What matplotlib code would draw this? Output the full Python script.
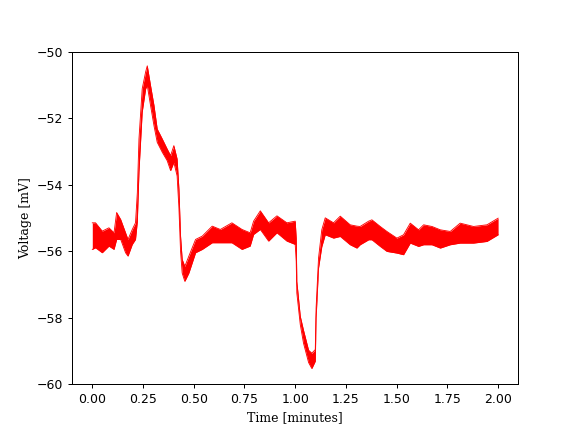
import matplotlib
matplotlib.use('agg')

import matplotlib.pyplot as plt
import numpy as np

# Envelope of the noisy voltage trace
time_min = [0.000, 0.016, 0.049, 0.082, 0.107, 0.120, 0.140, 0.164, 0.176, 0.197,
            0.213, 0.222, 0.230, 0.246, 0.263, 0.271, 0.287, 0.304, 0.320, 0.345,
            0.369, 0.386, 0.402, 0.418, 0.427, 0.435, 0.443, 0.456, 0.476, 0.509,
            0.542, 0.591, 0.631, 0.688, 0.738, 0.778, 0.795, 0.828, 0.869, 0.910,
            0.959, 1.000, 1.005, 1.008, 1.025, 1.041, 1.066, 1.082, 1.099, 1.103,
            1.115, 1.131, 1.148, 1.189, 1.222, 1.271, 1.304, 1.320, 1.362, 1.378,
            1.419, 1.452, 1.501, 1.534, 1.567, 1.608, 1.633, 1.674, 1.715, 1.764,
            1.813, 1.879, 1.945, 2.000]
v_high = [-55.14, -55.14, -55.39, -55.29, -55.44, -54.83, -55.04, -55.44, -55.64, -55.34,
          -55.14, -54.23, -52.62, -51.11, -50.60, -50.42, -51.01, -51.61, -52.32, -52.62,
          -52.92, -53.12, -52.82, -53.22, -54.13, -55.54, -56.24, -56.45, -56.14, -55.64,
          -55.54, -55.24, -55.34, -55.14, -55.34, -55.44, -55.09, -54.78, -55.14, -54.93,
          -55.14, -55.09, -55.60, -56.90, -57.95, -58.37, -58.97, -59.06, -58.95, -57.70,
          -56.20, -55.35, -54.99, -55.14, -54.94, -55.20, -55.24, -55.25, -55.09, -55.05,
          -55.25, -55.40, -55.60, -55.50, -55.15, -55.35, -55.20, -55.25, -55.35, -55.40,
          -55.15, -55.25, -55.20, -55.00]
v_low = [-55.94, -55.89, -56.04, -55.84, -55.94, -55.64, -55.64, -56.04, -56.14, -55.79,
         -55.64, -55.10, -53.60, -51.81, -51.11, -51.01, -51.61, -52.22, -52.72, -53.02,
         -53.27, -53.57, -53.32, -53.73, -54.70, -56.00, -56.65, -56.90, -56.65, -56.04,
         -55.94, -55.74, -55.74, -55.74, -55.94, -55.84, -55.49, -55.34, -55.69, -55.44,
         -55.69, -55.79, -56.30, -57.25, -58.20, -58.76, -59.34, -59.52, -59.30, -58.00,
         -56.50, -55.86, -55.50, -55.60, -55.55, -55.80, -55.90, -55.80, -55.65, -55.65,
         -55.85, -56.00, -56.05, -56.10, -55.75, -55.85, -55.80, -55.80, -55.90, -55.80,
         -55.75, -55.75, -55.70, -55.50]

fig, ax = plt.subplots(figsize=(6.4, 4.8), dpi=90)

ax.fill_between(time_min, v_low, v_high, color='red', linewidth=0)
ax.plot(time_min, v_high, color='red', linewidth=0.7)
ax.plot(time_min, v_low, color='red', linewidth=0.7)

ax.set_xlim(-0.1, 2.1)
ax.set_ylim(-60, -50)
ax.set_xlabel('Time [minutes]', family='DejaVu Serif')
ax.set_ylabel('Voltage [mV]', family='DejaVu Serif')

fig.savefig('out.png')
